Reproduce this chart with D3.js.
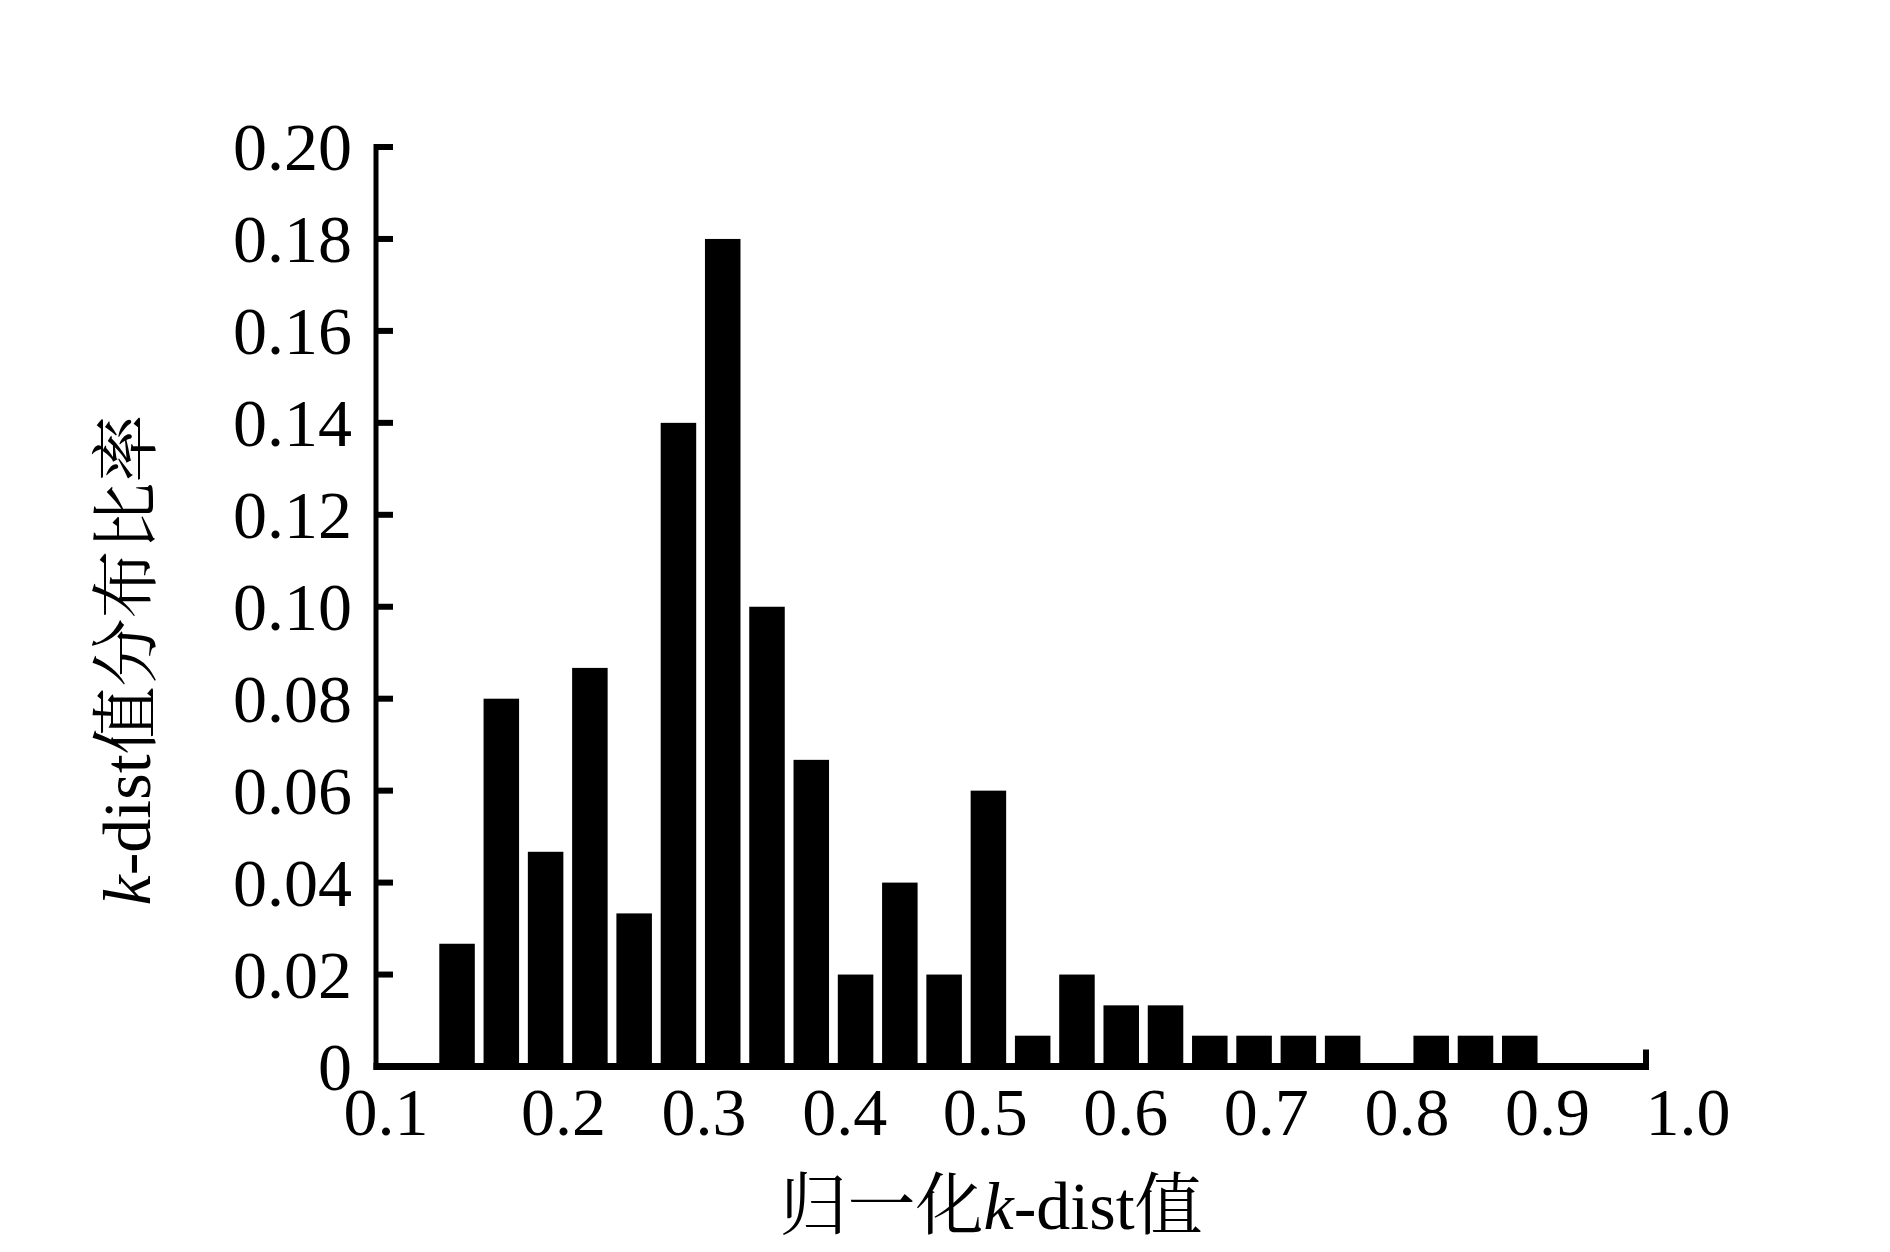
<!DOCTYPE html>
<html>
<head>
<meta charset="utf-8">
<script src="https://cdn.jsdelivr.net/npm/d3@7"></script>
<style>
  html, body { margin: 0; padding: 0; background: #fff; }
  svg { display: block; }
  text { font-family: "Liberation Serif", "Times New Roman", "Noto Serif CJK SC", "Noto Sans CJK SC", serif; fill: #000; }
</style>
</head>
<body>
<svg id="chart" width="1890" height="1252"></svg>
<script>
// ---- data ----
const bins = [1, 2, 3, 4, 5, 6, 7, 8, 9, 10, 11, 12, 13, 14, 15, 16, 17, 18, 19, 20, 21, 22, 23, 24, 25];
const ratios = [0.0267, 0.0800, 0.0467, 0.0867, 0.0333, 0.1400, 0.1800, 0.1000, 0.0667, 0.0200,
                0.0400, 0.0200, 0.0600, 0.0067, 0.0200, 0.0133, 0.0133, 0.0067, 0.0067, 0.0067,
                0.0067, 0.0000, 0.0067, 0.0067, 0.0067];
const yTicks = [0, 0.02, 0.04, 0.06, 0.08, 0.10, 0.12, 0.14, 0.16, 0.18, 0.20];
const xTicks = [0.1, 0.2, 0.3, 0.4, 0.5, 0.6, 0.7, 0.8, 0.9, 1.0];
const xTickLabels = ["0.1", "0.2", "0.3", "0.4", "0.5", "0.6", "0.7", "0.8", "0.9", "1.0"];
const xTitle = ["归一化", "k", "-dist值"];
const yTitle = ["k", "-dist值分布比率"];

// ---- layout ----
const svg = d3.select("#chart");
const axisLeft = 376, axisRight = 1646, baseY = 1066.5, topY = 147;
const fontSize = 68;

const y = d3.scaleLinear().domain([0, 0.20]).range([baseY, topY]);
const xBand = d3.scaleBand().domain(bins).range([434.9, 1541.9]).paddingInner(0.198).paddingOuter(0.099);
const xLab = d3.scaleLinear().domain([0.2, 1.0]).range([563.5, 1688]);

// bars
svg.append("g").selectAll("rect").data(bins).join("rect")
  .attr("x", d => xBand(d))
  .attr("width", xBand.bandwidth())
  .attr("y", (d, i) => y(ratios[i]))
  .attr("height", (d, i) => baseY - y(ratios[i]))
  .attr("fill", "#000");

// y axis line
svg.append("line")
  .attr("x1", axisLeft).attr("x2", axisLeft)
  .attr("y1", topY - 3).attr("y2", baseY + 3.5)
  .attr("stroke", "#000").attr("stroke-width", 5);

// y ticks (inward)
svg.append("g").selectAll("line").data(yTicks.slice(1)).join("line")
  .attr("x1", axisLeft).attr("x2", 393)
  .attr("y1", d => y(d)).attr("y2", d => y(d))
  .attr("stroke", "#000").attr("stroke-width", 6);

// y tick labels
svg.append("g").selectAll("text").data(yTicks).join("text")
  .attr("x", 352)
  .attr("y", d => y(d))
  .attr("dy", "0.34em")
  .attr("text-anchor", "end")
  .attr("font-size", fontSize)
  .text(d => d === 0 ? "0" : d3.format(".2f")(d));

// x axis line
svg.append("line")
  .attr("x1", axisLeft - 2.5).attr("x2", axisRight + 3)
  .attr("y1", baseY).attr("y2", baseY)
  .attr("stroke", "#000").attr("stroke-width", 7);

// right-end tick
svg.append("line")
  .attr("x1", axisRight).attr("x2", axisRight)
  .attr("y1", baseY).attr("y2", baseY - 17)
  .attr("stroke", "#000").attr("stroke-width", 6);

// x tick labels
svg.append("g").selectAll("text").data(xTicks).join("text")
  .attr("x", (d, i) => xLab(d) + (i === 0 ? -37 : 0))
  .attr("y", 1135)
  .attr("text-anchor", "middle")
  .attr("font-size", fontSize)
  .text((d, i) => xTickLabels[i]);

// x title
const xt = svg.append("text")
  .attr("x", 991).attr("y", 1229)
  .attr("text-anchor", "middle")
  .attr("font-size", fontSize);
xt.append("tspan").text(xTitle[0]);
xt.append("tspan").attr("font-style", "italic").text(xTitle[1]);
xt.append("tspan").text(xTitle[2]);

// y title
const yt = svg.append("text")
  .attr("transform", "translate(150,660) rotate(-90)")
  .attr("text-anchor", "middle")
  .attr("font-size", fontSize);
yt.append("tspan").attr("font-style", "italic").text(yTitle[0]);
yt.append("tspan").text(yTitle[1]);
</script>
</body>
</html>
